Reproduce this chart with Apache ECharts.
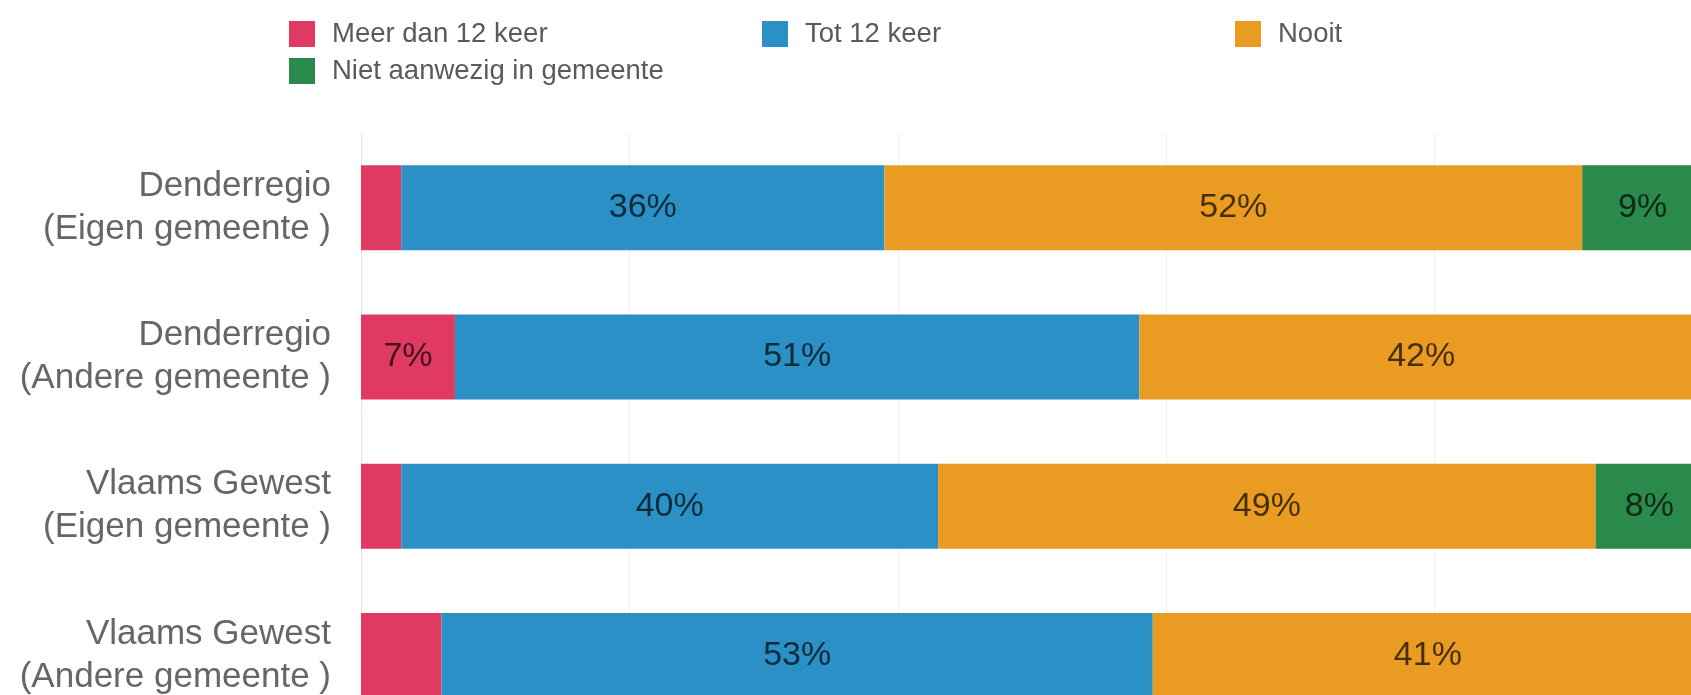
<!DOCTYPE html>
<html>
<head>
<meta charset="utf-8">
<script src="https://cdn.jsdelivr.net/npm/echarts@6/dist/echarts.min.js"></script>
<style>
html,body{margin:0;padding:0;background:#fff;}
#c{width:1691px;height:695px;}
</style>
</head>
<body>
<div id="c"></div>
<script>
const categories = [
  "Denderregio\n(Eigen gemeente )",
  "Denderregio\n(Andere gemeente )",
  "Vlaams Gewest\n(Eigen gemeente )",
  "Vlaams Gewest\n(Andere gemeente )"
];
const seriesNames = ["Meer dan 12 keer", "Tot 12 keer", "Nooit", "Niet aanwezig in gemeente"];
const meerDan12 = [3, 7, 3, 6];
const tot12 = [36, 51, 40, 53];
const nooit = [52, 42, 49, 41];
const nietAanwezig = [9, 0, 8, 0];
const xTicks = [0, 20, 40, 60, 80, 100];

const colors = ["#e03a62", "#2b90c5", "#ea9c22", "#2a8a4b"];
const values = [meerDan12, tot12, nooit, nietAanwezig];

const chart = echarts.init(document.getElementById('c'), null, {renderer: 'canvas'});

const legendPos = [
  {left: 289, top: 20},
  {left: 762, top: 20},
  {left: 1235, top: 20},
  {left: 289, top: 57}
];

const option = {
  backgroundColor: '#ffffff',
  animation: false,
  legend: seriesNames.map((n, i) => ({
    data: [n],
    left: legendPos[i].left,
    top: legendPos[i].top,
    padding: 0,
    itemWidth: 26,
    itemHeight: 26,
    icon: 'rect',
    selectedMode: false,
    textStyle: {
      fontFamily: 'Liberation Sans, Arial, sans-serif',
      fontSize: 27.5,
      color: '#5a5a5a',
      padding: [0, 0, 0, 12]
    }
  })),
  grid: {left: 361, top: 133, width: 1342, height: 597, containLabel: false, outerBoundsMode: 'none'},
  xAxis: {
    type: 'value',
    min: xTicks[0],
    max: xTicks[xTicks.length - 1],
    interval: xTicks[1] - xTicks[0],
    axisLabel: {show: false},
    axisLine: {show: false},
    axisTick: {show: false},
    splitLine: {show: true, lineStyle: {color: '#f0f0f0', width: 1}}
  },
  yAxis: {
    type: 'category',
    inverse: true,
    data: categories,
    axisTick: {show: false},
    axisLine: {show: true, lineStyle: {color: '#e4e4e4', width: 1}},
    axisLabel: {
      margin: 30,
      fontFamily: 'Liberation Sans, Arial, sans-serif',
      fontSize: 35,
      lineHeight: 43,
      color: '#666666',
      align: 'right'
    }
  },
  series: seriesNames.map((n, i) => ({
    name: n,
    type: 'bar',
    stack: 'total',
    barWidth: 85,
    data: values[i],
    itemStyle: {color: colors[i]},
    label: {
      show: true,
      position: 'inside',
      fontFamily: 'Liberation Sans, Arial, sans-serif',
      fontSize: 34,
      color: 'rgba(0,0,0,0.7)',
      formatter: p => (p.value >= 6.5 ? p.value + '%' : '')
    }
  }))
};
chart.setOption(option);
</script>
</body>
</html>
